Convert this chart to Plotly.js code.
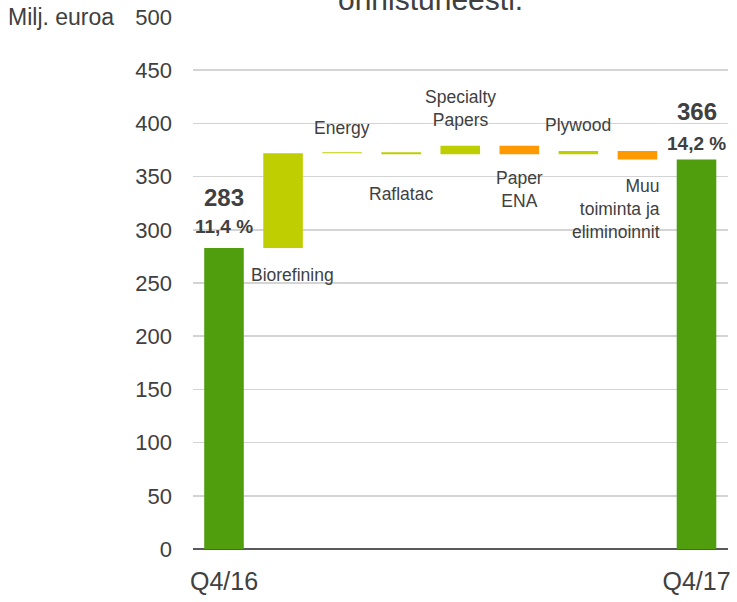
<!DOCTYPE html>
<html>
<head>
<meta charset="utf-8">
<script src="https://cdn.plot.ly/plotly-3.0.1.min.js"></script>
<style>
  body { margin: 0; background: #fff; }
  #kaavio { width: 737px; height: 602px; }
</style>
</head>
<body>
<div id="kaavio"></div>
<script>
// data
const kategoriat = ['Q4/16', 'Biorefining', 'Energy', 'Raflatac', 'Specialty Papers', 'Paper ENA', 'Plywood', 'Muu', 'Q4/17'];
const alkuarvo = 283;
const loppuarvo = 366;
const muutokset = [89, 1, -2, 8, -8, 3, -8];
const nimikkeet = ['Biorefining', 'Energy', 'Raflatac', 'Specialty<br>Papers', 'Paper<br>ENA', 'Plywood', 'Muu<br>toiminta ja<br>eliminoinnit'];
const marginaalit = ['11,4 %', '14,2 %'];
const akseliTekstit = ['Q4/16', 'Q4/17'];

// colours
const tummaVihrea = '#509E0E';
const lime = '#BFCE00';
const oranssi = '#FF9900';
const muutosVarit = [lime, lime, lime, lime, oranssi, lime, oranssi];
const tekstiVari = '#404040';
const fontti = 'Arial, "Liberation Sans", sans-serif';

// label placement (px offsets from bar end), one per change bar
const sijainnit = [
    {paa: 'ala', xanchor: 'left', xshift: -34, yshift: -15, align: 'left'},
    {paa: 'yla', xanchor: 'center', xshift: 0, yshift: 12},
    {paa: 'ala', xanchor: 'center', xshift: 0, yshift: -28},
    {paa: 'yla', xanchor: 'center', xshift: 0, yshift: 14},
    {paa: 'ala', xanchor: 'center', xshift: 0, yshift: -12},
    {paa: 'yla', xanchor: 'center', xshift: 0, yshift: 14},
    {paa: 'ala', xanchor: 'right', xshift: 25, yshift: -14, align: 'right'}
];

var pohjat = [0];
var korkeudet = [alkuarvo];
var varit = [tummaVihrea];
var ylat = [alkuarvo];
var alat = [0];
let taso = alkuarvo;
for (let i = 0; i < muutokset.length; i++) {
    let uusi = taso + muutokset[i];
    pohjat.push(Math.min(taso, uusi));
    korkeudet.push(Math.abs(muutokset[i]));
    varit.push(muutosVarit[i]);
    ylat.push(Math.max(taso, uusi));
    alat.push(Math.min(taso, uusi));
    taso = uusi;
}
pohjat.push(0);
korkeudet.push(loppuarvo);
varit.push(tummaVihrea);

var trace1 = {
    x: kategoriat,
    y: korkeudet,
    base: pohjat,
    type: 'bar',
    marker: { color: varit },
    hoverinfo: 'skip'
};

var merkinnat = [];

for (let i = 0; i < nimikkeet.length; i++) {
    let s = sijainnit[i];
    merkinnat.push({
        x: kategoriat[i + 1],
        y: s.paa === 'yla' ? ylat[i + 1] : alat[i + 1],
        text: nimikkeet[i],
        showarrow: false,
        xanchor: s.xanchor,
        yanchor: s.paa === 'yla' ? 'bottom' : 'top',
        xshift: s.xshift,
        yshift: s.yshift,
        align: s.align || 'center',
        font: { family: fontti, size: 17.5, color: tekstiVari }
    });
}

// start and end values with margins
const paat = [
    {x: kategoriat[0], arvo: alkuarvo, marg: marginaalit[0], arvoShift: 50, margShift: 21},
    {x: kategoriat[8], arvo: loppuarvo, marg: marginaalit[1], arvoShift: 48, margShift: 16}
];
for (let p of paat) {
    merkinnat.push({
        x: p.x, y: p.arvo, text: '<b>' + p.arvo + '</b>', showarrow: false,
        yanchor: 'middle', yshift: p.arvoShift,
        font: { family: fontti, size: 24, color: tekstiVari }
    });
    merkinnat.push({
        x: p.x, y: p.arvo, text: '<b>' + p.marg + '</b>', showarrow: false,
        yanchor: 'middle', yshift: p.margShift,
        font: { family: fontti, size: 19, color: tekstiVari }
    });
}

merkinnat.push({
    xref: 'paper', yref: 'paper', x: -0.35, y: 1,
    xanchor: 'left', yanchor: 'middle',
    text: 'Milj. euroa', showarrow: false,
    font: { family: fontti, size: 23, color: tekstiVari }
});

merkinnat.push({
    xref: 'paper', yref: 'paper', x: 0.443, y: 0.998,
    xanchor: 'center', yanchor: 'bottom',
    text: 'onnistuneesti.', showarrow: false,
    font: { family: fontti, size: 30, color: tekstiVari }
});

var layout = {
    width: 737,
    height: 602,
    margin: { l: 193, r: 9, t: 17, b: 53 },
    paper_bgcolor: '#fff',
    plot_bgcolor: '#fff',
    showlegend: false,
    bargap: 0.33,
    font: { family: fontti, color: tekstiVari },
    xaxis: {
        type: 'category',
        tickvals: [kategoriat[0], kategoriat[8]],
        ticktext: akseliTekstit,
        tickfont: { family: fontti, size: 25, color: tekstiVari },
        ticklabelstandoff: 15,
        showgrid: false,
        showline: false,
        ticks: ''
    },
    yaxis: {
        range: [0, 500],
        dtick: 50,
        gridcolor: '#D4D4D4',
        gridwidth: 1.5,
        zeroline: true,
        zerolinecolor: '#595959',
        zerolinewidth: 2,
        tickfont: { family: fontti, size: 22, color: tekstiVari },
        ticklabelstandoff: 20,
        ticks: ''
    },
    annotations: merkinnat
};

Plotly.newPlot('kaavio', [trace1], layout, { displayModeBar: false, staticPlot: true });
</script>
</body>
</html>
